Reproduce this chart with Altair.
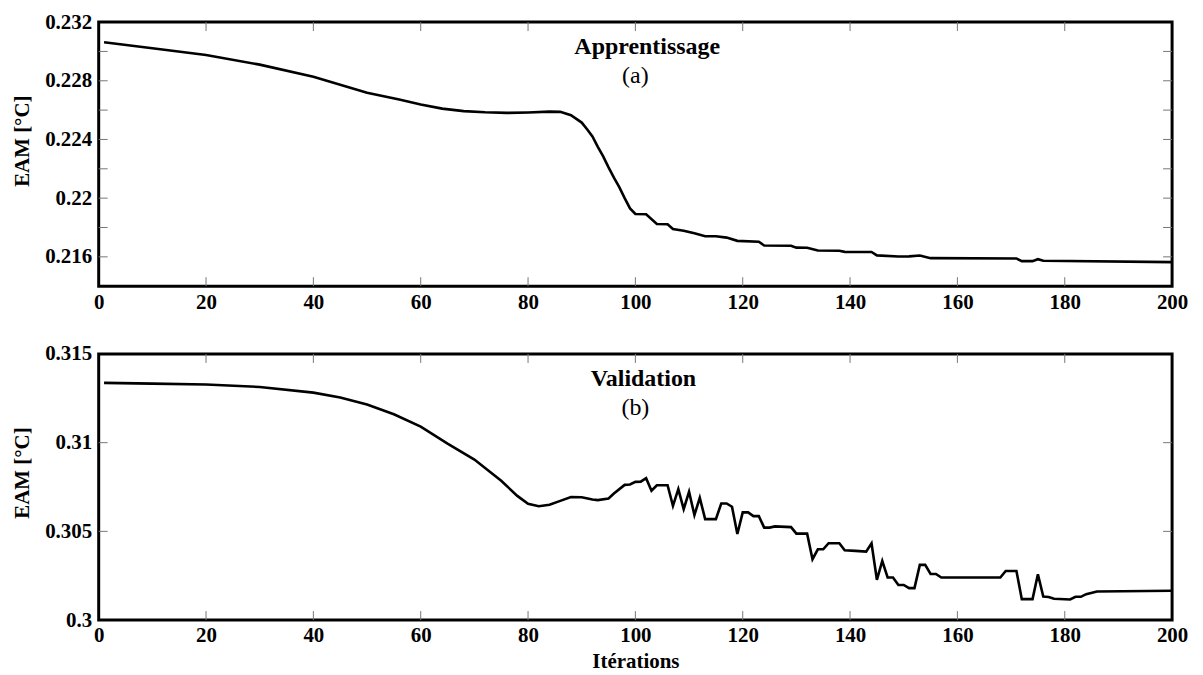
import altair as alt
import pandas as pd

# ---- data ----
train_iter = [1, 10, 20, 30, 40, 50, 56, 60, 64, 68, 72, 76, 80, 84, 86, 88, 90, 91, 92, 93,
              94, 95, 96, 97, 98, 99, 100, 102, 104, 106, 107, 109, 111, 113, 115, 117, 119,
              123, 124, 129, 130, 132, 134, 138, 139, 144, 145, 149, 151, 153, 155, 171, 172,
              174, 175, 176, 200]
train_eam = [0.23062, 0.23022, 0.22976, 0.22910, 0.22827, 0.22718, 0.22672, 0.22638, 0.22610,
             0.22593, 0.22585, 0.22581, 0.22584, 0.22590, 0.22588, 0.22565, 0.22515, 0.22470,
             0.22420, 0.22350, 0.22285, 0.22210, 0.22140, 0.22075, 0.22000, 0.21930, 0.21892,
             0.21890, 0.21824, 0.21822, 0.21790, 0.21778, 0.21760, 0.21740, 0.21740, 0.21731,
             0.21709, 0.21703, 0.21677, 0.21676, 0.21663, 0.21662, 0.21643, 0.21642, 0.21634,
             0.21633, 0.21610, 0.21602, 0.21603, 0.21609, 0.21591, 0.21589, 0.21571, 0.21571,
             0.21584, 0.21573, 0.21564]

val_iter = [1, 10, 20, 30, 40, 45, 50, 55, 60, 65, 70, 75, 78, 80, 82, 84, 86, 88, 90, 92, 93,
            95, 96, 98, 99, 100, 101, 102, 103, 104, 106, 107, 108, 109, 110, 111, 112, 113,
            115, 116, 117, 118, 119, 120, 121, 122, 123, 124, 125, 126, 129, 130, 132, 133,
            134, 135, 136, 138, 139, 141, 143, 144, 145, 146, 147, 148, 149, 150, 151, 152,
            153, 154, 155, 156, 157, 168, 169, 171, 172, 174, 175, 176, 177, 178, 181, 182,
            183, 184, 186, 200]
val_eam = [0.31337, 0.31333, 0.31328, 0.31314, 0.31282, 0.31255, 0.31215, 0.31160, 0.31090,
           0.30995, 0.30905, 0.30785, 0.30700, 0.30655, 0.30642, 0.30650, 0.30672, 0.30693,
           0.30692, 0.30680, 0.30676, 0.30685, 0.30713, 0.30762, 0.30764, 0.30779, 0.30780,
           0.30800, 0.30729, 0.30760, 0.30760, 0.30644, 0.30738, 0.30625, 0.30723, 0.30592,
           0.30689, 0.30569, 0.30569, 0.30657, 0.30657, 0.30639, 0.30485, 0.30607, 0.30607,
           0.30586, 0.30586, 0.30521, 0.30521, 0.30528, 0.30524, 0.30487, 0.30487, 0.30343,
           0.30399, 0.30399, 0.30433, 0.30433, 0.30393, 0.30390, 0.30386, 0.30433, 0.30227,
           0.30333, 0.30240, 0.30240, 0.30198, 0.30198, 0.30180, 0.30180, 0.30311, 0.30311,
           0.30260, 0.30260, 0.30240, 0.30240, 0.30277, 0.30277, 0.30118, 0.30118, 0.30258,
           0.30133, 0.30130, 0.30120, 0.30116, 0.30131, 0.30131, 0.30146, 0.30161, 0.30165]

x_ticks = [0, 20, 40, 60, 80, 100, 120, 140, 160, 180, 200]
x_inner_ticks = [20, 40, 60, 80, 100, 120, 140, 160, 180]
top_y_labels = [0.216, 0.22, 0.224, 0.228, 0.232]
top_y_inner_ticks = [0.216, 0.218, 0.22, 0.222, 0.224, 0.226, 0.228, 0.23]
bot_y_labels = [0.3, 0.305, 0.31, 0.315]
bot_y_inner_ticks = [0.305, 0.31]

W = 1077
FONT = "Liberation Serif"
TICK_LEN = 9
TICK_COLOR = "#777777"


def panel(xs, ys, ydom, ylabels, yinner, title, sub, title_x, H, xtitle):
    xs_scale = alt.Scale(domain=[0, 200], nice=False, zero=False)
    ys_scale = alt.Scale(domain=ydom, nice=False, zero=False)
    df = pd.DataFrame({"it": xs, "eam": ys})
    xkw = dict(values=x_ticks, ticks=False, domain=False, grid=False,
               labelFont=FONT, labelFontWeight="bold", labelFontSize=21,
               labelColor="black", labelPadding=5, labelFlush=False,
               labelOverlap=False, titleFont=FONT,
               titleFontWeight="bold", titleFontSize=21, titleColor="black",
               titlePadding=5)
    xaxis = alt.Axis(title=xtitle if xtitle else "", **xkw)
    yaxis = alt.Axis(values=ylabels, format=".3~f", ticks=False, domain=False, grid=False,
                     labelFont=FONT, labelFontWeight="bold", labelFontSize=21,
                     labelColor="black", labelPadding=7, labelOverlap=False,
                     title="EAM [°C]", titleFont=FONT, titleFontWeight="bold",
                     titleFontSize=21, titleColor="black", titleAngle=270,
                     titleX=-76, titleY=119, titleAlign="center", titleBaseline="middle")
    line = alt.Chart(df).mark_line(color="black", strokeWidth=2.6).encode(
        x=alt.X("it:Q", scale=xs_scale, axis=xaxis),
        y=alt.Y("eam:Q", scale=ys_scale, axis=yaxis),
    )
    xt = pd.DataFrame({"it": x_inner_ticks})
    yt = pd.DataFrame({"eam": yinner})
    tick_bot = alt.Chart(xt).mark_rule(color=TICK_COLOR, strokeWidth=1).encode(
        x=alt.X("it:Q", scale=xs_scale, axis=xaxis),
        y=alt.value(H), y2=alt.value(H - TICK_LEN))
    tick_top = alt.Chart(xt).mark_rule(color=TICK_COLOR, strokeWidth=1).encode(
        x=alt.X("it:Q", scale=xs_scale, axis=xaxis),
        y=alt.value(0), y2=alt.value(TICK_LEN))
    tick_left = alt.Chart(yt).mark_rule(color=TICK_COLOR, strokeWidth=1).encode(
        y=alt.Y("eam:Q", scale=ys_scale, axis=yaxis),
        x=alt.value(0), x2=alt.value(TICK_LEN))
    tick_right = alt.Chart(yt).mark_rule(color=TICK_COLOR, strokeWidth=1).encode(
        y=alt.Y("eam:Q", scale=ys_scale, axis=yaxis),
        x=alt.value(W), x2=alt.value(W - TICK_LEN))
    tdf = pd.DataFrame({"it": [title_x], "t": [title]})
    sdf = pd.DataFrame({"it": [100], "t": [sub]})
    ttl = alt.Chart(tdf).mark_text(font=FONT, fontWeight="bold", fontSize=24,
                                   color="black", baseline="alphabetic").encode(
        x=alt.X("it:Q", scale=xs_scale, axis=xaxis), y=alt.value(32), text="t:N")
    stl = alt.Chart(sdf).mark_text(font=FONT, fontSize=24, color="black",
                                   baseline="alphabetic").encode(
        x=alt.X("it:Q", scale=xs_scale, axis=xaxis), y=alt.value(61), text="t:N")
    return alt.layer(line, tick_bot, tick_top, tick_left, tick_right, ttl, stl).properties(
        width=W, height=H)


top = panel(train_iter, train_eam, [0.214, 0.232], top_y_labels, top_y_inner_ticks,
            "Apprentissage", "(a)", 102.2, 265, None)
bot = panel(val_iter, val_eam, [0.3, 0.315], bot_y_labels, bot_y_inner_ticks,
            "Validation", "(b)", 101.5, 267, "Itérations")

chart = alt.vconcat(top, bot, spacing=68, bounds="flush").properties(
    padding={"left": 2, "top": 0, "right": 5, "bottom": 0},
    background="white",
).configure_view(stroke="black", strokeWidth=3)

chart.save("out.html", embed_options={"renderer": "svg", "actions": False})
